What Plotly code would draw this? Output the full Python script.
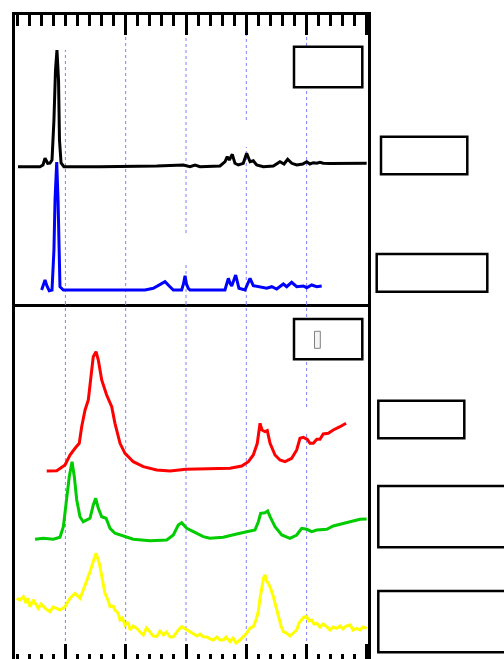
import plotly.graph_objects as go

# ---------------- data (arbitrary units) ----------------
black_x = [-3.93, -2.11, -1.86, -1.69, -1.47, -1.28, -1.11, -0.95, -0.82, -0.70, -0.57, -0.49, -0.36, -0.12,
           2.87, 6.19, 7.57, 9.78, 10.33, 10.75, 11.16, 12.82, 13.24, 13.42, 13.59, 13.84, 14.06, 14.34,
           14.75, 15.03, 15.31, 15.58, 15.86, 16.41, 17.24, 17.79, 18.13, 18.43, 18.77, 19.18, 19.68,
           20.01, 20.28, 20.56, 20.84, 21.11, 21.38, 21.94, 24.98]
black_y = [137.3, 137.3, 139, 145.7, 140.7, 141, 144, 184, 234, 254, 224, 164, 141, 137.3,
           137.3, 137.3, 138, 139, 137.3, 139, 137.3, 138, 142.3, 147.3, 144, 149.7, 140.7, 139,
           140.7, 150.7, 142.3, 143.3, 139, 137.3, 138, 142.3, 140, 144.7, 140.7, 139, 140,
           142.3, 140, 141.3, 140.7, 141.7, 140.7, 140.5, 140.7]

blue_x = [-1.97, -1.86, -1.69, -1.53, -1.34, -1.11, -0.95, -0.86, -0.72, -0.61, -0.53, -0.45, -0.17,
          6.60, 7.29, 7.84, 8.26, 8.67, 8.95, 9.64, 9.79, 9.92, 10.04, 10.19, 10.33, 13.23, 13.51,
          13.65, 13.79, 14.12, 14.39, 14.89, 15.31, 15.58, 16.14, 16.69, 17.11, 17.52, 18.07, 18.35,
          18.76, 19.18, 19.73, 20.01, 20.42, 20.84, 21.25]
blue_y = [14, 18, 24, 18, 13.3, 14, 54, 104, 142, 104, 44, 17.3, 14,
          14, 15.7, 19, 22.3, 17.3, 14, 14, 20, 28.3, 20, 15.7, 14, 14, 25.7,
          21, 18, 29, 15.7, 14, 25.7, 18.3, 17.3, 15.7, 17.3, 15, 20, 17.3,
          21.7, 17.3, 18, 16.3, 19, 17.3, 18]

red_x = [-1.55, -0.72, -0.03, 0.38, 0.80, 1.15, 1.35, 1.63, 1.90, 2.12, 2.31, 2.54, 2.73, 3.01, 3.42,
         3.84, 4.11, 4.53, 4.94, 5.63, 6.46, 7.57, 8.67, 10.00, 11.43, 13.65, 14.62, 15.17, 15.58,
         15.91, 16.14, 16.30, 16.55, 16.74, 16.97, 17.38, 17.79, 18.21, 18.76, 19.18, 19.45, 19.73,
         20.06, 20.28, 20.56, 20.84, 21.11, 21.38, 21.80, 22.21, 22.77, 23.27]
red_y = [188, 188.3, 194, 204, 210.7, 215.7, 232.3, 249, 259, 282.3, 302.3, 307.3, 299, 279, 264,
         252.3, 235.7, 215.7, 205.7, 197.3, 192.3, 189, 188, 189.7, 190, 190.7, 193, 197.3, 204,
         215.7, 235.7, 229, 227.3, 228.3, 215.7, 204, 199, 197.3, 200.7, 209, 220.7, 221.7,
         219.7, 215.7, 215.7, 219.7, 219.7, 225, 225.7, 229, 232.3, 235.7]

green_x = [-2.52, -1.83, -1.00, -0.45, -0.17, 0.11, 0.32, 0.55, 0.74, 0.94, 1.21, 1.48, 1.77, 2.04,
           2.31, 2.51, 2.73, 3.01, 3.37, 3.70, 4.11, 4.80, 5.63, 7.01, 8.40, 8.95, 9.36, 9.64, 10.06,
           10.61, 11.43, 11.99, 13.09, 14.20, 15.03, 15.72, 16.00, 16.19, 16.55, 16.77, 16.97, 17.38,
           17.94, 18.62, 19.18, 19.59, 20.01, 20.42, 20.84, 21.67, 22.21, 23.04, 23.87, 24.43, 24.98]
green_y = [119.7, 120.7, 119.7, 121.7, 132.3, 159, 182.3, 197.3, 182.3, 159, 142.3, 137.3, 139, 140.7,
           154, 160.7, 150.7, 142.3, 140.7, 130.7, 125.7, 123, 119.7, 118.3, 119, 124, 134, 136.3, 130.7,
           127.3, 122.3, 120.7, 121.7, 125, 127.3, 129, 137.3, 145.7, 146.3, 148, 142.3, 132.3,
           124, 120.7, 124, 130.7, 129.7, 127.3, 129, 129.7, 133, 135.7, 138, 139.7, 140]

yellow_x = [-4.04, -3.76, -3.49, -3.27, -3.10, -2.94, -2.66, -2.48, -2.25, -2.02, -1.83, -1.61, -1.28,
            -1.03, -0.72, -0.45, -0.03, 0.38, 0.80, 1.04, 1.21, 1.48, 1.75, 2.04, 2.29, 2.54, 2.81,
            3.04, 3.28, 3.53, 3.70, 3.95, 4.11, 4.36, 4.53, 4.73, 4.94, 5.19, 5.36, 5.61, 5.91, 6.19,
            6.46, 6.72, 7.01, 7.26, 7.57, 7.84, 8.12, 8.38, 8.67, 8.95, 9.17, 9.36, 9.64, 9.83, 10.06,
            10.33, 10.61, 10.91, 11.16, 11.43, 11.74, 11.99, 12.26, 12.57, 12.82, 13.09, 13.31, 13.65,
            13.90, 14.15, 14.47, 14.72, 15.03, 15.31, 15.58, 15.80, 15.99, 16.14, 16.28, 16.43, 16.55,
            16.68, 16.83, 17.01, 17.24, 17.46, 17.65, 17.88, 18.07, 18.33, 18.62, 18.87, 19.18, 19.37,
            19.59, 19.78, 20.01, 20.20, 20.42, 20.61, 20.84, 21.11, 21.36, 21.67, 21.94, 22.19, 22.49,
            22.77, 23.02, 23.27, 23.61, 23.85, 24.15, 24.43, 24.68, 24.98]
yellow_y = [60.7, 59, 62.3, 56, 61, 52.3, 59, 55, 50.7, 55, 52.3, 50, 47.3,
            52, 50.7, 49, 52.3, 60.7, 65.7, 63, 60.7, 69, 77, 87.3, 97, 105.7, 95.7,
            81, 65.7, 59, 52.3, 53, 49, 46, 39, 41, 34, 37, 29, 33, 30.7, 27,
            24, 31, 27.3, 23, 22.3, 28, 24, 27, 22, 22.3, 26, 29, 32.3, 31, 29,
            27, 25.7, 23, 25, 22.3, 22, 20, 19, 22, 19, 19, 22, 17.3,
            21, 16, 19, 22, 25.7, 31, 32.3, 39, 47.3, 61, 72.3, 81, 84,
            78, 75.7, 71, 62.3, 52, 42.3, 33, 27.3, 26, 23, 26, 29, 36,
            39, 42, 42.3, 38, 39, 35, 35.7, 32, 35, 32.3, 29, 32, 30.7,
            33, 30, 33, 34, 29, 30.7, 29, 32, 30.7]

# reference (dashed) lines at these positions, as segments
ref_positions = [0, 5, 10, 15, 20]
top_ref_segments = {0: [(0, 254)], 5: [(0, 271)], 10: [(0, 41), (71, 271)],
                    15: [(0, 157), (184, 271)], 20: [(0, 271)]}
bot_ref_segments = {0: [(0, 355)], 5: [(0, 355)], 10: [(0, 355)],
                    15: [(0, 355)], 20: [(0, 226), (252, 355)]}

top_major = [5, 10, 15, 20, 25]
bottom_major = [0, 5, 10, 15, 20, 25]
x_range = [-4.179, 25.091]

# ---------------- figure ----------------
W, H = 504, 659
ML, MT, MB = 15, 15, 0
MR = W - 368
pw, ph = W - ML - MR, H - MT - MB
split = (659 - 304) / ph

fig = go.Figure()

def seg_trace(segs, xaxis, yaxis):
    xs, ys = [], []
    for xv in ref_positions:
        for a, b in segs[xv]:
            xs += [xv, xv, None]
            ys += [a, b, None]
    return go.Scatter(x=xs, y=ys, mode="lines", xaxis=xaxis, yaxis=yaxis,
                      line=dict(color="#7f7fff", width=1, dash="3px,3px"),
                      hoverinfo="skip", showlegend=False)

fig.add_trace(seg_trace(top_ref_segments, "x", "y"))
fig.add_trace(seg_trace(bot_ref_segments, "x2", "y2"))

for xs, ys, col, ax, ay in [
    (black_x, black_y, "#000000", "x", "y"),
    (blue_x, blue_y, "#0000ff", "x", "y"),
    (red_x, red_y, "#ff0000", "x2", "y2"),
    (green_x, green_y, "#00cc00", "x2", "y2"),
    (yellow_x, yellow_y, "#ffff00", "x2", "y2"),
]:
    fig.add_trace(go.Scatter(x=xs, y=ys, mode="lines", xaxis=ax, yaxis=ay,
                             line=dict(color=col, width=3), showlegend=False))

# label boxes (text missing in the reference), screen pixel positions
boxes = [(294, 46.7, 362.3, 87.3), (294, 319, 362.3, 359.3),
         (381, 136.7, 467.3, 174.3), (376.7, 254, 487.3, 291.7),
         (378.3, 400.7, 464.3, 438.3), (378.3, 486, 530, 547.3),
         (378.3, 591, 530, 652.3)]
def px(x): return (x - ML) / pw
def py(y): return (H - MB - y) / ph
shapes = []
for x0, y0, x1, y1 in boxes:
    shapes.append(dict(type="rect", xref="paper", yref="paper", layer="above",
                       x0=px(x0), x1=px(x1), y0=py(y1), y1=py(y0),
                       line=dict(color="black", width=2.5), fillcolor="white"))
shapes.append(dict(type="rect", xref="paper", yref="paper", layer="above",
                   x0=px(314.5), x1=px(320.3), y0=py(348.3), y1=py(331.3),
                   line=dict(color="#808080", width=1), fillcolor="#f4f4f4"))

common_x = dict(range=x_range, showgrid=False, zeroline=False, showticklabels=False,
                tickmode="array", ticks="inside", tickcolor="black", tickwidth=2.5)
fig.update_layout(
    width=W, height=H, margin=dict(l=ML, r=MR, t=MT, b=MB),
    paper_bgcolor="white", plot_bgcolor="white", showlegend=False,
    shapes=shapes,
    xaxis=dict(**common_x, anchor="y", side="top", tickvals=top_major, ticklen=20,
               showline=True, mirror=True, linecolor="black", linewidth=2.5,
               minor=dict(dtick=1, tick0=0, ticks="inside", ticklen=11, tickwidth=2.5,
                          tickcolor="black")),
    xaxis2=dict(**common_x, anchor="y2", side="bottom", tickvals=bottom_major, ticklen=15,
                showline=False,
                minor=dict(dtick=1, tick0=0, ticks="inside", ticklen=5, tickwidth=2.5,
                           tickcolor="black")),
    yaxis=dict(domain=[split, 1], range=[0, 289], showgrid=False, zeroline=False,
               showticklabels=False, ticks="", showline=True, mirror=True,
               linecolor="black", linewidth=2.5),
    yaxis2=dict(domain=[0, split], range=[0, 355], showgrid=False, zeroline=False,
                showticklabels=False, ticks="", showline=True, mirror=True,
                linecolor="black", linewidth=2.5),
)

fig.write_html("out.html",
               config={"displayModeBar": False},
               post_script="document.body.style.margin='0';"
                           "document.body.style.overflow='hidden';")
